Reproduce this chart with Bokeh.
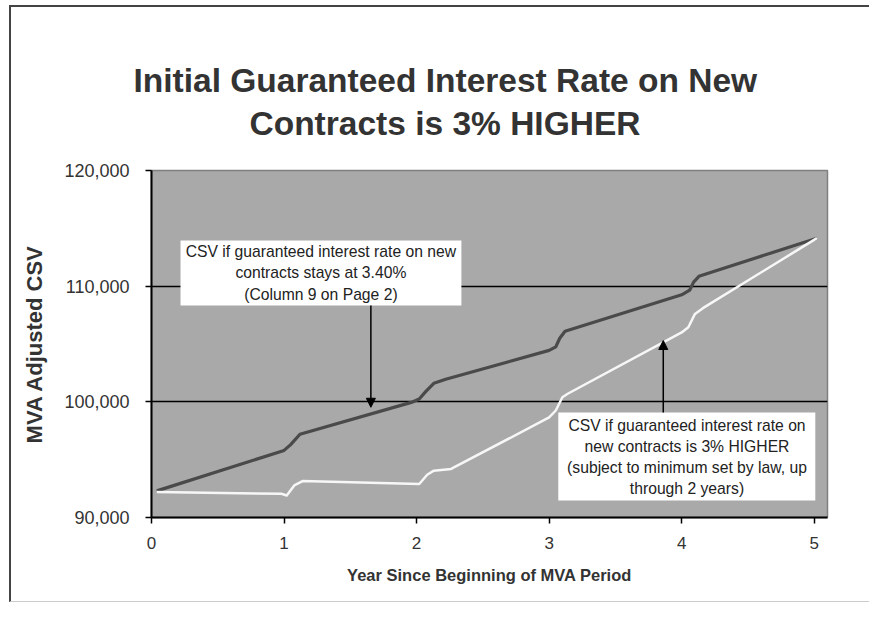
from bokeh.plotting import figure
from bokeh.models import (Label, BoxAnnotation, Arrow, NormalHead, FixedTicker,
                          NumeralTickFormatter, Range1d, Title)
from bokeh.embed import file_html
from bokeh.resources import INLINE

# ---- data ----
title_lines = ["Initial Guaranteed Interest Rate on New", "Contracts is 3% HIGHER"]
x_ticks = [0, 1, 2, 3, 4, 5]
y_ticks = [90000, 100000, 110000, 120000]

years_current = [0.04, 1.0, 1.05, 1.12, 1.96, 2.02, 2.07, 2.13, 2.22,
                 3.0, 3.05, 3.08, 3.12, 4.0, 4.06, 4.09, 4.13, 5.02]
csv_current = [92300, 95800, 96300, 97200, 99950, 100250, 100900, 101600, 101950,
               104450, 104750, 105500, 106100, 109250, 109650, 110350, 110850, 114150]

years_higher = [0.04, 0.98, 1.02, 1.08, 1.14, 2.02, 2.08, 2.13, 2.26,
                3.0, 3.05, 3.1, 3.14, 4.0, 4.05, 4.1, 4.16, 5.02]
csv_higher = [92200, 92050, 91900, 92800, 93150, 92900, 93700, 94050, 94200,
              98650, 99250, 100400, 100700, 106000, 106450, 107600, 108100, 114150]

note_current = "CSV if guaranteed interest rate on new\ncontracts stays at 3.40%\n(Column 9 on Page 2)"
note_higher = ("CSV if guaranteed interest rate on\nnew contracts is 3% HIGHER\n"
               "(subject to minimum set by law, up\nthrough 2 years)")

FONT = "Liberation Sans"
TXT = "#333333"

p = figure(width=860, height=597, x_range=Range1d(0, 5.1), y_range=Range1d(90000, 120000),
           output_backend="svg", toolbar_location=None,
           min_border_left=140, min_border_right=44, min_border_top=163, min_border_bottom=87)
p.styles = {"margin-left": "9px", "margin-top": "5px",
            "border-left": "2px solid #444444", "border-top": "2px solid #444444",
            "border-bottom": "1px solid #cccccc"}

p.background_fill_color = "#a9a9a9"
p.border_fill_color = "white"
p.outline_line_color = "#808080"
p.outline_line_width = 1.5

# spacer between plot frame and title, then the two title lines
p.add_layout(Title(text=" ", standoff=16, text_font=FONT, text_font_size="10px"), "above")
for txt, offset, standoff in ((title_lines[1], 98, 0), (title_lines[0], -18, 8)):
    p.add_layout(Title(text=txt, align="left", offset=offset, standoff=standoff,
                       text_font=FONT, text_font_style="bold", text_font_size="33.5px",
                       text_color=TXT), "above")

# axes
p.xaxis.ticker = FixedTicker(ticks=x_ticks)
p.yaxis.ticker = FixedTicker(ticks=y_ticks)
p.yaxis.formatter = NumeralTickFormatter(format="0,0")
for ax in (p.xaxis, p.yaxis):
    ax.axis_line_color = "black"
    ax.axis_line_width = 2
    ax.major_tick_line_color = "black"
    ax.major_tick_line_width = 1.5
    ax.major_tick_in = 0
    ax.major_tick_out = 6
    ax.minor_tick_line_color = None
    ax.major_label_text_font = FONT
    ax.major_label_text_color = TXT
    ax.axis_label_text_font = FONT
    ax.axis_label_text_font_style = "bold"
    ax.axis_label_text_color = TXT
p.xaxis.major_label_text_font_size = "17px"
p.yaxis.major_label_text_font_size = "18px"
p.xaxis.major_label_standoff = 13
p.yaxis.major_label_standoff = 16
p.xaxis.axis_label = "Year Since Beginning of MVA Period"
p.xaxis.axis_label_text_font_size = "16.5px"
p.xaxis.axis_label_standoff = 14
p.yaxis.axis_label = "MVA Adjusted CSV"
p.yaxis.axis_label_text_font_size = "22px"
p.yaxis.axis_label_standoff = 14

p.xgrid.visible = False
p.ygrid.ticker = FixedTicker(ticks=y_ticks)
p.ygrid.grid_line_color = "black"
p.ygrid.grid_line_width = 1.5

# series
p.line(years_current, csv_current, line_color="#4a4a4a", line_width=3.2, line_join="round")
p.line(years_higher, csv_higher, line_color="#f7f7f7", line_width=2.5, line_join="round")

# annotation boxes
p.add_layout(BoxAnnotation(left=0.219, right=2.338, bottom=108330, top=113950,
                           fill_color="white", fill_alpha=1, line_color=None))
p.add_layout(BoxAnnotation(left=3.069, right=5.008, bottom=91470, top=99080,
                           fill_color="white", fill_alpha=1, line_color=None))
p.add_layout(Label(x=1.278, y=111140, text=note_current, text_align="center",
                   text_baseline="middle", text_font=FONT, text_font_size="15.7px",
                   text_color="#222222", text_line_height=1.28))
p.add_layout(Label(x=4.04, y=95250, text=note_higher, text_align="center",
                   text_baseline="middle", text_font=FONT, text_font_size="15.7px",
                   text_color="#222222", text_line_height=1.23))

# arrows
p.add_layout(Arrow(end=NormalHead(size=9, fill_color="black", line_color="black"),
                   x_start=1.655, y_start=108330, x_end=1.655, y_end=99530,
                   line_color="black", line_width=1.5))
p.add_layout(Arrow(end=NormalHead(size=9, fill_color="black", line_color="black"),
                   x_start=3.861, y_start=99080, x_end=3.861, y_end=105300,
                   line_color="black", line_width=1.5))

open("out.html", "w").write(file_html(p, INLINE))
